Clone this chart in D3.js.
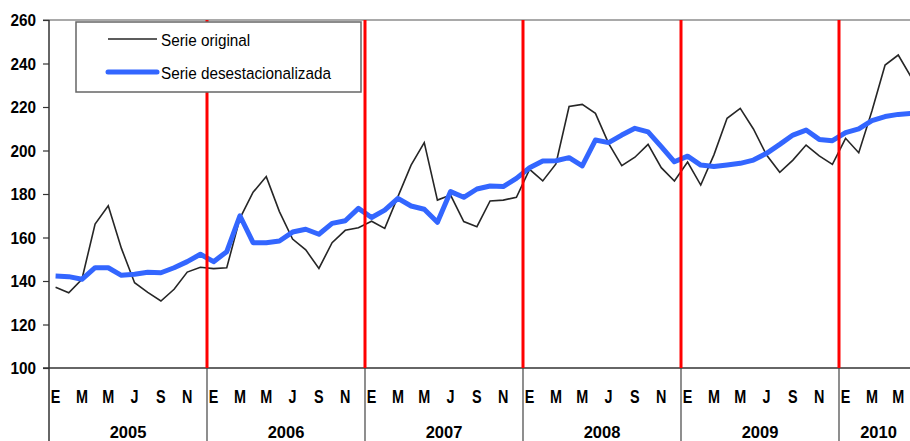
<!DOCTYPE html>
<html>
<head>
<meta charset="utf-8">
<script src="https://cdn.jsdelivr.net/npm/d3@7"></script>
<style>
  html, body { margin: 0; padding: 0; background: #fff; }
  svg { display: block; }
  text { font-family: "Liberation Sans", Arial, sans-serif; }
</style>
</head>
<body>
<svg id="chart" width="910" height="441"></svg>
<script>
// ---------------- DATA ----------------
const years = ["2005", "2006", "2007", "2008", "2009", "2010"];
const monthsInYear = [12, 12, 12, 12, 12, 6];
const monthLetters = ["E", "F", "M", "A", "M", "J", "J", "A", "S", "O", "N", "D"];
const shownMonths = [0, 2, 4, 6, 8, 10]; // E M M J S N
const yTicks = [100, 120, 140, 160, 180, 200, 220, 240, 260];

const serieOriginal = [
  137.1, 134.6, 140.8, 166.2, 174.6, 155.0, 139.2, 134.8, 130.8, 136.2, 144.1, 146.3,
  145.7, 146.1, 168.8, 180.8, 188.0, 171.9, 159.3, 154.3, 145.8, 157.6, 163.3, 164.5,
  167.5, 164.2, 178.8, 193.3, 203.6, 177.2, 179.5, 167.3, 165.0, 176.8, 177.2, 178.5,
  191.3, 186.0, 193.8, 220.2, 221.2, 217.1, 203.3, 193.0, 196.9, 202.8, 192.1, 186.0,
  194.7, 184.1, 198.0, 214.8, 219.4, 209.9, 197.9, 190.0, 195.6, 202.5, 197.5, 193.6,
  205.6, 199.0, 218.2, 239.3, 243.9, 233.5
];
const serieDesestacionalizada = [
  142.3, 142.0, 140.8, 146.1, 146.1, 142.6, 143.1, 144.0, 143.8, 146.1, 148.9, 152.3,
  148.9, 153.5, 170.0, 157.6, 157.6, 158.4, 162.5, 163.8, 161.5, 166.5, 167.7, 173.4,
  169.2, 172.6, 178.0, 174.5, 173.0, 167.0, 181.1, 178.5, 182.3, 183.7, 183.4, 187.2,
  192.1, 195.2, 195.3, 196.7, 192.9, 204.8, 203.6, 207.1, 210.2, 208.6, 201.8, 194.8,
  197.4, 193.3, 192.6, 193.3, 194.1, 195.6, 198.7, 202.8, 207.1, 209.4, 205.1, 204.5,
  208.2, 209.9, 213.7, 215.6, 216.6, 217.1
];
const legendLabels = ["Serie original", "Serie desestacionalizada"];

// ---------------- LAYOUT ----------------
const svg = d3.select("#chart");
const pLeft = 49, pRight = 918, pTop = 20, pBottom = 368;
const nMonths = serieOriginal.length;
const idx = d3.range(nMonths);

const x = d3.scaleBand().domain(idx).range([pLeft, pRight]).padding(0);
const y = d3.scaleLinear().domain([100, 260]).range([pBottom, pTop]);
const cx = i => x(i) + x.bandwidth() / 2;

// year start indices
const yearStart = [];
let acc = 0;
monthsInYear.forEach(m => { yearStart.push(acc); acc += m; });

// top frame line
svg.append("line")
  .attr("x1", pLeft - 6).attr("x2", 910).attr("y1", pTop).attr("y2", pTop)
  .attr("stroke", "#8c8c8c").attr("stroke-width", 1.5);

// Y axis
const yAxis = svg.append("g")
  .attr("transform", `translate(${pLeft},0)`)
  .call(d3.axisLeft(y).tickValues(yTicks).tickSize(6).tickPadding(6).tickFormat(d3.format("d")));
yAxis.select(".domain").remove();
yAxis.selectAll(".tick line").attr("stroke", "#333").attr("stroke-width", 1.2);
yAxis.selectAll(".tick text")
  .attr("font-family", "Liberation Sans, Arial, sans-serif")
  .attr("font-size", 16.5).attr("font-weight", "bold").attr("fill", "#000")
  .attr("dy", "0.36em")
  .attr("transform", "scale(0.93,1)")
  .attr("x", -13 / 0.93);

// left axis line (extends through category area)
svg.append("line")
  .attr("x1", pLeft).attr("x2", pLeft).attr("y1", pTop).attr("y2", 441)
  .attr("stroke", "#333").attr("stroke-width", 1.5);

// bottom axis line
svg.append("line")
  .attr("x1", pLeft - 6).attr("x2", 910).attr("y1", pBottom).attr("y2", pBottom)
  .attr("stroke", "#333").attr("stroke-width", 1.5);

// year separators in category area
svg.selectAll(".ysep").data(yearStart.slice(1)).enter().append("line")
  .attr("x1", d => x(d)).attr("x2", d => x(d))
  .attr("y1", pBottom).attr("y2", 441)
  .attr("stroke", "#444").attr("stroke-width", 1.2);

// month labels
const monthItems = [];
yearStart.forEach((s, yi) => {
  for (let m = 0; m < monthsInYear[yi]; m++) {
    if (shownMonths.includes(m)) monthItems.push({ i: s + m, label: monthLetters[m] });
  }
});
svg.selectAll(".mlab").data(monthItems).enter().append("text")
  .attr("transform", d => `translate(${cx(d.i)},403) scale(0.8,1)`)
  .attr("text-anchor", "middle")
  .attr("font-size", 18).attr("font-weight", "bold").attr("fill", "#000")
  .text(d => d.label);

// year labels
svg.selectAll(".ylab").data(years).enter().append("text")
  .attr("x", (d, i) => {
    const s = yearStart[i], e = s + monthsInYear[i];
    return (x(s) + x(e - 1) + x.bandwidth()) / 2;
  })
  .attr("y", 438)
  .attr("text-anchor", "middle")
  .attr("font-size", 16.5).attr("font-weight", "bold").attr("fill", "#000")
  .text(d => d);

// lines
const lineGen = d3.line().x((d, i) => cx(i)).y(d => y(d));
svg.append("path").datum(serieOriginal)
  .attr("d", lineGen).attr("fill", "none")
  .attr("stroke", "#262626").attr("stroke-width", 1.6).attr("stroke-linejoin", "miter");
svg.append("path").datum(serieDesestacionalizada)
  .attr("d", lineGen).attr("fill", "none")
  .attr("stroke", "#3366ff").attr("stroke-width", 5).attr("stroke-linejoin", "round");

// red year dividers
svg.selectAll(".red").data(yearStart.slice(1)).enter().append("line")
  .attr("x1", d => x(d)).attr("x2", d => x(d))
  .attr("y1", pTop).attr("y2", pBottom)
  .attr("stroke", "#ff0000").attr("stroke-width", 3);

// legend
const lg = svg.append("g");
lg.append("rect")
  .attr("x", 76).attr("y", 22).attr("width", 285).attr("height", 70)
  .attr("fill", "#fff").attr("stroke", "#666").attr("stroke-width", 1.5);
lg.append("line").attr("x1", 108).attr("x2", 157).attr("y1", 39).attr("y2", 39)
  .attr("stroke", "#262626").attr("stroke-width", 1.6);
lg.append("line").attr("x1", 108).attr("x2", 157).attr("y1", 72).attr("y2", 72)
  .attr("stroke", "#3366ff").attr("stroke-width", 5).attr("stroke-linecap", "round");
lg.selectAll(".ltxt").data(legendLabels).enter().append("text")
  .attr("transform", (d, i) => `translate(161,${i === 0 ? 46 : 79}) scale(0.9,1)`)
  .attr("font-size", 17).attr("fill", "#000")
  .text(d => d);
</script>
</body>
</html>
